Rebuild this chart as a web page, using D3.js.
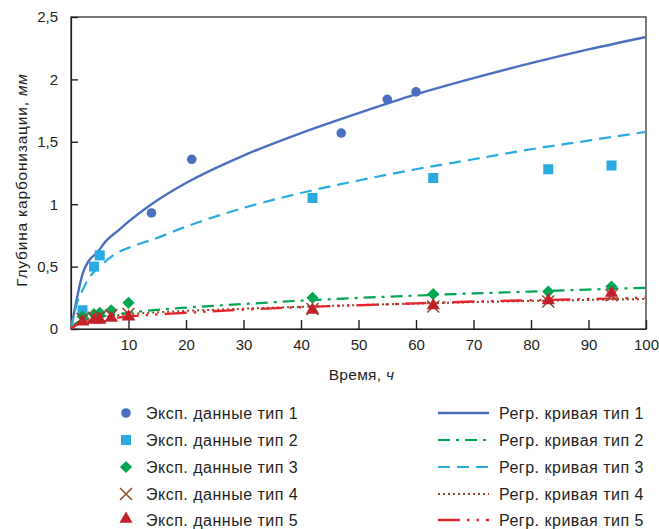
<!DOCTYPE html>
<html>
<head>
<meta charset="utf-8">
<script src="https://cdn.jsdelivr.net/npm/d3@7"></script>
<style>
  html, body { margin: 0; padding: 0; background: #fff; }
  svg { display: block; font-family: "Liberation Sans", Arial, sans-serif; }
</style>
</head>
<body>
<svg id="chart" width="659" height="529"></svg>
<script>
// Experimental points: [time, h], depth of carbonation in mm
const expType1 = [[14, 0.93], [21, 1.36], [47, 1.57], [55, 1.84], [60, 1.90]];
const expType2 = [[2, 0.15], [4, 0.50], [5, 0.59], [42, 1.05], [63, 1.21], [83, 1.28], [94, 1.31]];
const expType3 = [[2, 0.10], [4, 0.12], [5, 0.13], [7, 0.15], [10, 0.21], [42, 0.25], [63, 0.28], [83, 0.30], [94, 0.34]];
const expType4 = [[2, 0.08], [4, 0.09], [5, 0.10], [7, 0.11], [10, 0.12], [42, 0.16], [63, 0.18], [83, 0.22], [94, 0.27]];
const expType5 = [[2, 0.05], [4, 0.065], [5, 0.065], [7, 0.08], [10, 0.09], [42, 0.145], [63, 0.18], [83, 0.22], [94, 0.28]];

// Regression curves, sampled: [time, depth]
const regType1 = [[0, 0], [1, 0.24], [2, 0.44], [3, 0.54], [4.5, 0.61], [6, 0.70], [8.5, 0.80], [10, 0.86], [14, 1.0], [20, 1.17], [30, 1.39], [40, 1.57], [50, 1.73], [60, 1.88], [70, 2.01], [80, 2.13], [90, 2.24], [100, 2.34]];
const regType2 = [[0, 0], [1, 0.05], [2, 0.068], [5, 0.098], [10, 0.13], [20, 0.171], [30, 0.20], [40, 0.227], [50, 0.249], [60, 0.268], [70, 0.285], [80, 0.30], [90, 0.316], [100, 0.33]];
const regType3 = [[0, 0], [1, 0.20], [2, 0.31], [3.3, 0.42], [5, 0.50], [8, 0.61], [10, 0.65], [15, 0.73], [20, 0.82], [30, 0.97], [40, 1.09], [50, 1.19], [60, 1.28], [70, 1.36], [80, 1.44], [90, 1.51], [100, 1.58]];
const regType4 = [[0, 0], [1, 0.05], [2, 0.07], [5, 0.095], [10, 0.118], [20, 0.145], [30, 0.163], [40, 0.178], [50, 0.192], [60, 0.204], [70, 0.215], [80, 0.225], [90, 0.233], [100, 0.24]];
const regType5 = [[0, 0], [1, 0.035], [2, 0.05], [5, 0.075], [10, 0.10], [20, 0.13], [30, 0.155], [40, 0.175], [50, 0.19], [60, 0.205], [70, 0.22], [80, 0.23], [90, 0.24], [100, 0.25]];

const xTicks = [10, 20, 30, 40, 50, 60, 70, 80, 90, 100];
const yTicks = [0, 0.5, 1, 1.5, 2, 2.5];
const xTitle = "Время, ";
const xUnit = "ч";
const yTitle = "Глубина карбонизации, ";
const yUnit = "мм";

const expLabels = ["Эксп. данные тип 1", "Эксп. данные тип 2", "Эксп. данные тип 3", "Эксп. данные тип 4", "Эксп. данные тип 5"];
const regLabels = ["Регр. кривая тип 1", "Регр. кривая тип 2", "Регр. кривая тип 3", "Регр. кривая тип 4", "Регр. кривая тип 5"];

const textColor = "#231f20";
const colors = {
  blue: "#4a6fbf",
  sky: "#29abe2",
  green: "#00a651",
  brown: "#8b4a2b",
  red: "#c1212b",
  redLine: "#e5252b"
};

const svg = d3.select("#chart");
const plot = { left: 71, right: 646, top: 17, bottom: 329 };

const x = d3.scaleLinear().domain([0, 100]).range([plot.left, plot.right]);
const y = d3.scaleLinear().domain([0, 2.5]).range([plot.bottom, plot.top]);

const fmt = d => String(d).replace(".", ",");

// Frame
svg.append("rect")
  .attr("x", plot.left).attr("y", plot.top)
  .attr("width", plot.right - plot.left).attr("height", plot.bottom - plot.top)
  .attr("fill", "none").attr("stroke", textColor).attr("stroke-width", 1.2);

// Axes with inward ticks
const yAxis = svg.append("g")
  .attr("transform", `translate(${plot.left},0)`)
  .call(d3.axisLeft(y).tickValues(yTicks).tickFormat(fmt).tickSizeInner(-7).tickSizeOuter(0).tickPadding(13));
const xAxis = svg.append("g")
  .attr("transform", `translate(0,${plot.bottom})`)
  .call(d3.axisBottom(x).tickValues(xTicks).tickFormat(fmt).tickSizeInner(-9).tickSizeOuter(0).tickPadding(10));

[yAxis, xAxis].forEach(g => {
  g.select(".domain").attr("stroke", textColor).attr("stroke-width", 1.2);
  g.selectAll(".tick line").attr("stroke", textColor).attr("stroke-width", 1.4);
  g.selectAll(".tick text").attr("fill", textColor).style("font-size", "15px");
});

// Axis titles
const xt = svg.append("text")
  .attr("x", (plot.left + plot.right) / 2 + 3).attr("y", 380)
  .attr("text-anchor", "middle").attr("fill", textColor)
  .style("font-size", "15.5px").style("letter-spacing", "0.3px");
xt.append("tspan").text(xTitle);
xt.append("tspan").style("font-style", "italic").text(xUnit);

const yt = svg.append("text")
  .attr("transform", `translate(27,${(plot.top + plot.bottom) / 2 + 7}) rotate(-90)`)
  .attr("text-anchor", "middle").attr("fill", textColor)
  .style("font-size", "15.5px").style("letter-spacing", "0.8px");
yt.append("tspan").text(yTitle);
yt.append("tspan").style("font-style", "italic").text(yUnit);

// Regression curves
const line = d3.line().x(d => x(d[0])).y(d => y(d[1])).curve(d3.curveMonotoneX);
const curveStyles = [
  { data: regType1, color: colors.blue, dash: null, width: 2.4 },
  { data: regType2, color: colors.green, dash: "12,6,3,6", width: 2.2 },
  { data: regType3, color: colors.sky, dash: "12,7", width: 2.2 },
  { data: regType4, color: colors.brown, dash: "2,3", width: 2 },
  { data: regType5, color: colors.redLine, dash: "22,7,2.5,7,2.5,7", width: 2.4 }
];

svg.append("clipPath").attr("id", "plotClip")
  .append("rect").attr("x", plot.left).attr("y", plot.top)
  .attr("width", plot.right - plot.left).attr("height", plot.bottom - plot.top);

const curves = svg.append("g").attr("clip-path", "url(#plotClip)");
curveStyles.forEach(s => {
  curves.append("path")
    .attr("d", line(s.data))
    .attr("fill", "none")
    .attr("stroke", s.color)
    .attr("stroke-width", s.width)
    .attr("stroke-dasharray", s.dash);
});

// Marker drawing helper
function drawMarker(g, type, cx, cy) {
  if (type === 1) {
    g.append("circle").attr("cx", cx).attr("cy", cy).attr("r", 4.8).attr("fill", colors.blue);
  } else if (type === 2) {
    g.append("rect").attr("x", cx - 5).attr("y", cy - 5).attr("width", 10).attr("height", 10).attr("fill", colors.sky);
  } else if (type === 3) {
    g.append("path").attr("d", d3.symbol(d3.symbolDiamond2, 95)()).attr("transform", `translate(${cx},${cy})`).attr("fill", colors.green);
  } else if (type === 4) {
    g.append("path").attr("d", `M${cx - 6},${cy - 6}L${cx + 6},${cy + 6}M${cx - 6},${cy + 6}L${cx + 6},${cy - 6}`)
      .attr("stroke", colors.brown).attr("stroke-width", 1.5).attr("fill", "none");
  } else if (type === 5) {
    g.append("path").attr("d", d3.symbol(d3.symbolTriangle, 75)()).attr("transform", `translate(${cx},${cy - 1})`).attr("fill", colors.red);
  }
}

// Experimental points
const pts = svg.append("g");
[expType1, expType2, expType3, expType4, expType5].forEach((series, i) => {
  series.forEach(d => drawMarker(pts, i + 1, x(d[0]), y(d[1])));
});

// Legend
const legendRows = [413, 440, 467, 494, 520];
const leg = svg.append("g");
expLabels.forEach((label, i) => {
  drawMarker(leg, i + 1, 126, legendRows[i]);
  leg.append("text").attr("x", 146).attr("y", legendRows[i] + 5.5)
    .attr("fill", textColor).style("font-size", "16px").style("letter-spacing", "0.5px").text(label);
});
regLabels.forEach((label, i) => {
  const s = curveStyles[i];
  leg.append("line").attr("x1", 438).attr("x2", 489)
    .attr("y1", legendRows[i]).attr("y2", legendRows[i])
    .attr("stroke", s.color).attr("stroke-width", s.width).attr("stroke-dasharray", s.dash);
  leg.append("text").attr("x", 499).attr("y", legendRows[i] + 5.5)
    .attr("fill", textColor).style("font-size", "16px").style("letter-spacing", "0.5px").text(label);
});
</script>
</body>
</html>
